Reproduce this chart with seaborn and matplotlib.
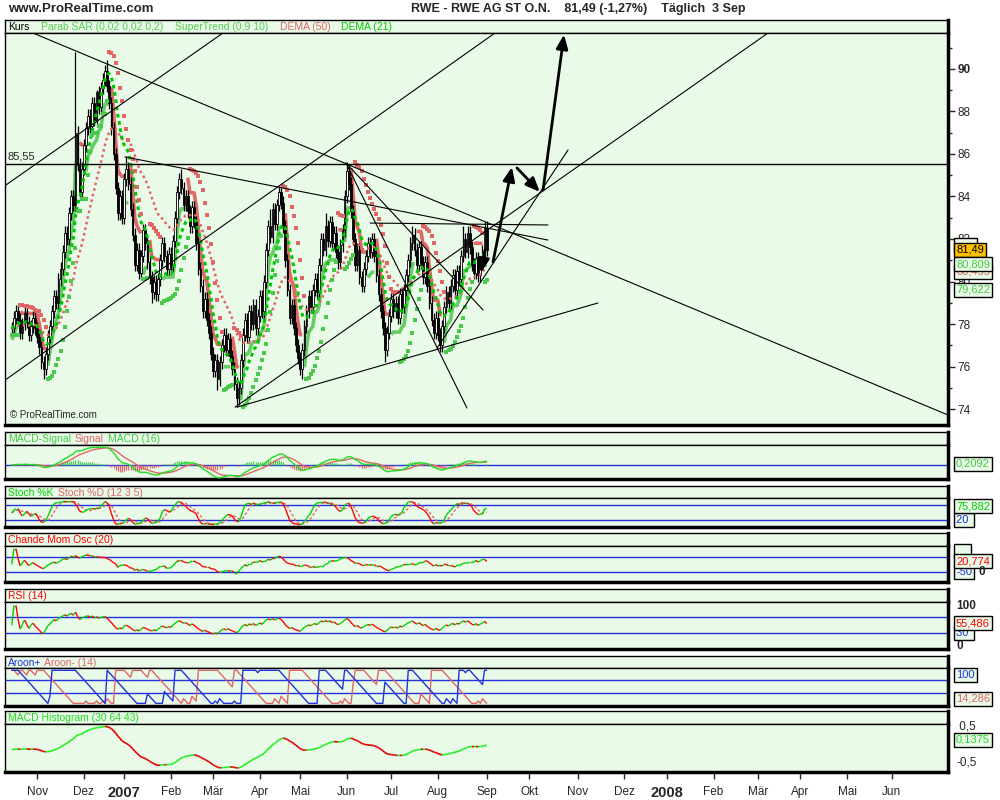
import numpy as np
import pandas as pd
import matplotlib
matplotlib.use("Agg")
import matplotlib.pyplot as plt
import seaborn as sns
from matplotlib.collections import LineCollection

sns.set_style("white")
plt.rcParams["font.family"] = ["Liberation Sans", "DejaVu Sans"]

# ---------------- data ----------------
close = [
    77.8, 78.3, 78.6, 78.2, 77.6, 78.0, 78.5, 78.1, 77.5, 77.9, 78.3, 77.8,
    77.4, 76.9, 76.2, 75.9, 76.6, 77.4, 77.9, 78.6, 79.3, 79.0,
    80.1, 80.6, 81.4, 82.3, 82.0, 83.2, 84.0, 83.6,
    87.0,
    85.5, 84.2, 85.3, 86.4,
    87.2, 87.8, 87.3, 88.4, 87.6, 88.9, 88.2, 89.1,
    89.5, 89.9, 89.2, 88.4,
    87.2, 86.0, 84.4, 83.2, 84.0, 83.0,
    84.8, 85.3, 84.6, 83.4,
    82.2, 80.8, 81.5, 80.4, 81.2,
    82.4, 81.8, 80.9,
    80.2, 79.5, 80.0, 79.4, 80.1,
    81.0, 81.8, 81.2, 80.6, 81.3, 80.8,
    81.9, 83.0, 84.2, 84.8, 84.4, 83.6,
    84.0, 83.3, 82.6, 83.5, 82.8,
    81.8, 80.6, 79.8, 78.6, 79.2, 78.2, 77.6,
    76.6, 75.8, 76.3, 75.4, 76.2, 77.0,
    77.5, 76.8, 77.3, 76.5, 75.9,
    75.2, 74.5, 75.0,
    76.3, 77.5, 78.2, 77.4, 78.6,
    78.0, 78.9, 77.8, 78.4, 79.3, 78.6,
    80.0, 81.5, 82.6, 82.1, 83.4, 82.7, 83.6,
    84.2, 83.7, 82.6,
    81.0, 79.6, 78.3, 78.9, 77.8,
    77.0, 76.4, 75.9, 76.8, 77.9,
    78.6, 79.3, 78.8, 79.6, 80.1, 79.5,
    80.8, 82.0, 81.5, 82.6, 81.9, 82.8,
    81.8, 82.3, 81.4, 80.9, 81.7, 82.4,
    84.0, 85.2, 84.6,
    83.3, 82.0, 80.8, 81.5,
    80.2, 79.8, 80.6, 81.2,
    81.8, 81.4, 82.0, 81.2,
    80.3, 79.4, 78.6, 77.8, 76.8, 77.6,
    78.4, 79.2, 78.6, 79.0, 78.3, 79.4, 78.8, 79.6,
    80.3, 81.0, 81.8, 82.2, 81.5, 80.8,
    81.6, 80.9, 80.2, 80.9, 79.8,
    79.0, 78.2, 77.6, 78.3, 77.5, 77.0, 77.9,
    78.8, 79.5, 79.0, 79.8, 80.3, 79.6, 80.5, 80.1,
    81.2, 82.0, 81.4, 82.3, 81.6,
    80.8, 80.4, 81.1, 80.3, 80.9, 81.4,
    82.54, 81.49,
]
# notable wick extremes (bar index -> price)
high_extremes = {30: 90.8, 40: 89.0, 45: 90.4, 54: 85.9, 80: 85.3, 122: 83.4,
                 127: 84.4, 148: 83.2, 158: 85.6, 189: 82.6, 213: 82.6, 223: 82.8}
low_extremes = {15: 75.4, 66: 79.0, 97: 74.9, 106: 74.1, 137: 75.4, 176: 76.2, 202: 76.7}
wick = 0.3

month_pos = [12, 34, 53, 75, 95, 117, 136, 158, 179, 201, 224, 244, 267, 289, 309,
             331, 352, 372, 394, 415]
month_lab = ["Nov", "Dez", "2007", "Feb", "Mär", "Apr", "Mai", "Jun", "Jul", "Aug", "Sep",
             "Okt", "Nov", "Dez", "2008", "Feb", "Mär", "Apr", "Mai", "Jun"]
price_ticks = list(range(74, 91, 2))
level_line = 85.55

# user-drawn trendlines: (bar1, price1, bar2, price2)
trendlines = [
    (10.9, 91.65, 441.6, 73.72),
    (-3.2, 84.51, 99.6, 91.69),
    (-3.2, 75.36, 227.9, 91.69),
    (53.4, 85.86, 252.9, 81.95),
    (158.1, 85.48, 214.7, 74.05),
    (157.6, 85.58, 222.3, 78.66),
    (106.2, 74.09, 276.5, 78.99),
    (105.3, 74.09, 356.7, 91.69),
    (200.6, 76.87, 262.4, 86.19),
    (169.0, 82.75, 252.9, 82.66),
]
# forecast arrows: (tail bar, tail price, head bar, head price)
arrows = [
    (223.2, 81.48, 221.3, 80.40),
    (227.0, 80.92, 235.9, 85.39),
    (238.3, 85.34, 249.1, 84.21),
    (250.6, 84.31, 260.5, 91.62),
]
# right-hand value boxes of the price panel (first one is hidden behind the orange box)
main_boxes = [
    ("      ", 81.70, "#44CC44", "#EAFAE9"),
    ("81,49", 81.49, "black", "#FFC000"),
    ("80,455", 80.455, "#E06666", "#EAFAE9"),
    ("80,809", 80.809, "#44CC44", "#EAFAE9"),
    ("79,622", 79.622, "#44CC44", "#EAFAE9"),
]

# ---------------- derived series ----------------
n = len(close)
x = np.arange(n)
c = pd.Series(close, dtype=float)
o = c.shift(1).fillna(c.iloc[0])
hi = np.maximum(o, c) + wick
lo = np.minimum(o, c) - wick
for k, v in high_extremes.items():
    hi[k] = v
for k, v in low_extremes.items():
    lo[k] = v
hi = hi.values
lo = lo.values


def psar(h, l, step=0.02, inc=0.02, mx=0.2):
    m = len(h)
    sar = np.zeros(m)
    up = np.ones(m, bool)
    trend = True
    af = step
    ep = h[0]
    sar[0] = l[0]
    for i in range(1, m):
        s = sar[i - 1] + af * (ep - sar[i - 1])
        if trend:
            s = min(s, l[i - 1], l[i - 2] if i > 1 else l[i - 1])
            if l[i] < s:
                trend = False
                s = ep
                ep = l[i]
                af = step
            elif h[i] > ep:
                ep = h[i]
                af = min(af + inc, mx)
        else:
            s = max(s, h[i - 1], h[i - 2] if i > 1 else h[i - 1])
            if h[i] > s:
                trend = True
                s = ep
                ep = h[i]
                af = step
            elif l[i] < ep:
                ep = l[i]
                af = min(af + inc, mx)
        sar[i] = s
        up[i] = trend
    return sar, up


def supertrend(h, l, cl, period=10, mult=0.9):
    cl = np.asarray(cl)
    prev = np.r_[cl[0], cl[:-1]]
    tr = np.maximum(h - l, np.maximum(abs(h - prev), abs(l - prev)))
    atr = pd.Series(tr).ewm(alpha=1 / period, adjust=False).mean().values
    hl2 = (h + l) / 2
    ub = hl2 + mult * atr
    lb = hl2 - mult * atr
    fub, flb = ub.copy(), lb.copy()
    st = np.zeros(len(cl))
    up = np.ones(len(cl), bool)
    st[0] = flb[0]
    for i in range(1, len(cl)):
        fub[i] = ub[i] if (ub[i] < fub[i - 1] or cl[i - 1] > fub[i - 1]) else fub[i - 1]
        flb[i] = lb[i] if (lb[i] > flb[i - 1] or cl[i - 1] < flb[i - 1]) else flb[i - 1]
        if up[i - 1]:
            up[i] = not (cl[i] < flb[i])
        else:
            up[i] = cl[i] > fub[i]
        st[i] = flb[i] if up[i] else fub[i]
    return st, up


def dema(s, span):
    e = s.ewm(span=span, adjust=False).mean()
    return 2 * e - e.ewm(span=span, adjust=False).mean()


sar, sar_up = psar(hi, lo)
st, st_up = supertrend(hi, lo, c.values)
dema50 = dema(c, 50).values
dema21 = dema(c, 21).values

macd = c.ewm(span=12, adjust=False).mean() - c.ewm(span=26, adjust=False).mean()
sig = macd.ewm(span=9, adjust=False).mean()
mhist = macd - sig

his, los = pd.Series(hi), pd.Series(lo)
ll = los.rolling(12, min_periods=1).min()
hh = his.rolling(12, min_periods=1).max()
raw = 100 * (c - ll) / (hh - ll)
stk = raw.rolling(3, min_periods=1).mean()
std = stk.rolling(5, min_periods=1).mean()

d = c.diff().fillna(0)
su = d.clip(lower=0).rolling(20, min_periods=1).sum()
sd = (-d).clip(lower=0).rolling(20, min_periods=1).sum()
cmo = (100 * (su - sd) / (su + sd)).fillna(0)

g = d.clip(lower=0).ewm(alpha=1 / 14, adjust=False).mean()
lz = (-d).clip(lower=0).ewm(alpha=1 / 14, adjust=False).mean()
rsi = (100 - 100 / (1 + g / lz)).fillna(50)

ar_up = np.zeros(n)
ar_dn = np.zeros(n)
for i in range(n):
    s0 = max(0, i - 14)
    ar_up[i] = 100 * (14 - np.argmax(hi[s0:i + 1][::-1])) / 14
    ar_dn[i] = 100 * (14 - np.argmin(lo[s0:i + 1][::-1])) / 14

lm = c.ewm(span=30, adjust=False).mean() - c.ewm(span=64, adjust=False).mean()
lhist = (lm - lm.ewm(span=43, adjust=False).mean()).values

# ---------------- styling ----------------
BG = "#EAFAE9"
GRN = "#00D000"
RED = "#FF0000"
PINK = "#E06666"
LGRN = "#4CC94C"
BLUE = "#2233DD"
XLIM = (-3.2, 441.6)
W, H = 1000, 800
FS_STRIP = 7.5

fig = plt.figure(figsize=(10, 8), dpi=100)
fig.patch.set_facecolor("white")


def add_ax(y0, y1, x0=5, x1=948):
    return fig.add_axes([x0 / W, 1 - y1 / H, (x1 - x0) / W, (y1 - y0) / H])


def style(ax, thick_bottom=True):
    ax.set_facecolor(BG)
    for s in ax.spines.values():
        s.set_color("black")
        s.set_linewidth(1)
    ax.spines["right"].set_linewidth(2.5)
    if thick_bottom:
        ax.spines["bottom"].set_linewidth(2.5)
    ax.set_xticks([])
    ax.set_yticks([])
    ax.set_xlim(*XLIM)


def strip(y0, y1, items):
    sa = add_ax(y0, y1)
    style(sa, thick_bottom=False)
    sa.set_xlim(0, 943)
    sa.set_ylim(0, 1)
    for xp, txt, col in items:
        sa.text(xp - 5, 0.45, txt, color=col, fontsize=FS_STRIP, va="center", ha="left")
    return sa


def slope_line(ax, xs, ys, lw=1.0, up=GRN, dn=RED):
    ys = np.asarray(ys)
    pts = np.column_stack([xs, ys])
    segs = np.stack([pts[:-1], pts[1:]], axis=1)
    cols = np.where(np.diff(ys) >= 0, up, dn)
    ax.add_collection(LineCollection(segs, colors=cols, linewidths=lw, zorder=3))


def vbox(ax, y, txt, col, fc=BG, trans="data", weight="normal", z=6, ec="black"):
    tr = ax.get_yaxis_transform() if trans == "data" else ax.transAxes
    ax.text(1.0085, y, txt, transform=tr, color=col, fontsize=8, va="center", ha="left",
            fontweight=weight, zorder=z, clip_on=False,
            bbox=dict(boxstyle="square,pad=0.18", fc=fc, ec=ec, lw=1))


# header
fig.text(8 / W, 1 - 9 / H, "www.ProRealTime.com", fontsize=9.5, fontweight="bold", va="center")
fig.text(411 / W, 1 - 9 / H, "RWE - RWE AG ST O.N.    81,49 (-1,27%)    Täglich  3 Sep",
         fontsize=9, fontweight="bold", va="center")

# ---------------- main price panel ----------------
strip(20, 33, [(8, "Kurs", "black"), (41, "Parab SAR (0,02 0,02 0,2)", "#55CC55"),
               (175, "SuperTrend (0,9 10)", "#55CC55"), (280, "DEMA (50)", PINK),
               (341, "DEMA (21)", "#00C800")])
ax = add_ax(33, 425)
style(ax)
ax.set_ylim(73.25, 91.69)

st_g = np.where(st_up, st, np.nan)
st_r = np.where(~st_up, st, np.nan)
ax.plot(x, st_g, color="#66CC66", lw=2.6, zorder=2, solid_capstyle="butt")
ax.plot(x, st_r, color="#E06868", lw=2.6, zorder=2, solid_capstyle="butt")

up_c = (c >= o).values
body_b = np.minimum(o, c).values
body_h = np.maximum(np.abs((c - o).values), 0.06)
ax.vlines(x, lo, hi, color="black", lw=0.9, zorder=3)
ax.bar(x, body_h, bottom=body_b, width=0.8, color=np.where(up_c, "white", "black"),
       edgecolor="black", linewidth=0.6, zorder=3)

ax.plot(x, dema50, color=PINK, lw=1.8, ls=(0, (1, 1.3)), zorder=4)
ax.plot(x, dema21, color="#00C800", lw=2.2, ls=(0, (1.2, 1.2)), zorder=4)
sns.scatterplot(x=x[sar_up], y=sar[sar_up], marker="s", s=11, color=LGRN, linewidth=0,
                ax=ax, zorder=4)
sns.scatterplot(x=x[~sar_up], y=sar[~sar_up], marker="s", s=11, color=PINK, linewidth=0,
                ax=ax, zorder=4)

for x1, y1, x2, y2 in trendlines:
    ax.plot([x1, x2], [y1, y2], color="black", lw=0.8, zorder=5)
ax.axhline(level_line, color="black", lw=1, zorder=5)
ax.text(0.003, level_line + 0.1, "85,55", transform=ax.get_yaxis_transform(), fontsize=8,
        va="bottom", ha="left")
for tx, ty, hx, hy in arrows:
    ax.annotate("", xy=(hx, hy), xytext=(tx, ty),
                arrowprops=dict(arrowstyle="-|>,head_length=0.6,head_width=0.25",
                                color="black", lw=2, mutation_scale=14, shrinkA=0,
                                shrinkB=0), zorder=6)
ax.text(0.005, 0.012, "© ProRealTime.com", transform=ax.transAxes, fontsize=7,
        va="bottom", ha="left")

ax.yaxis.tick_right()
ax.set_yticks(price_ticks)
ax.set_yticks(range(74, 92), minor=True)
ax.set_yticklabels([str(t) for t in price_ticks])
ax.tick_params(axis="y", which="major", length=5, width=1, pad=2, labelsize=8.5,
               right=True, left=False)
ax.tick_params(axis="y", which="minor", length=3, width=1, right=True, left=False)
ax.get_yticklabels()[-1].set_fontweight("bold")
ax.set_xlabel("")
ax.set_ylabel("")
for txt, val, col, fc in main_boxes:
    vbox(ax, val, txt, col, fc=fc)

# ---------------- MACD ----------------
strip(432, 445, [(8, "MACD-Signal", "#44CC44"), (75, "Signal", PINK),
                 (108, "MACD (16)", "#44CC44")])
a1 = add_ax(445, 479)
style(a1)
top = float(max(np.abs(macd).max(), np.abs(sig).max())) * 1.12
a1.set_ylim(-top * 14 / 20, top)
a1.axhline(0, color=BLUE, lw=1, zorder=2)
a1.vlines(x, 0, mhist.values, colors=np.where(mhist.values >= 0, "#44CC44", PINK), lw=0.9,
          zorder=2)
sns.lineplot(x=x, y=sig.values, color=PINK, lw=1, ax=a1, zorder=3)
sns.lineplot(x=x, y=macd.values, color="#22DD22", lw=1, ax=a1, zorder=3)
a1.set_xlim(*XLIM)
a1.set_xticks([])
a1.set_yticks([])
a1.set_xlabel("")
a1.set_ylabel("")
vbox(a1, 0.45, "0,2092", "#44CC44", trans="axes")

# ---------------- Stochastic ----------------
strip(486, 498, [(8, "Stoch %K", GRN), (58, "Stoch %D (12 3 5)", PINK)])
a2 = add_ax(498, 527)
style(a2)
a2.set_ylim(-6, 109)
a2.axhline(80, color=BLUE, lw=1)
a2.axhline(20, color=BLUE, lw=1)
a2.plot(x, std.values, color=PINK, lw=1, ls=(0, (2, 1.5)), zorder=3)
slope_line(a2, x, stk.values, lw=1)
vbox(a2, 20, "20 ", BLUE)
vbox(a2, 75.882, "75,882", GRN)

# ---------------- Chande ----------------
strip(533, 546, [(8, "Chande Mom Osc (20)", RED)])
a3 = add_ax(546, 582)
style(a3)
a3.set_ylim(-114, 118)
a3.axhline(50, color=BLUE, lw=1)
a3.axhline(-50, color=BLUE, lw=1)
slope_line(a3, x, cmo.values, lw=1)
vbox(a3, 88, "    ", "black")
vbox(a3, -50, "-50", BLUE)
a3.text(1.032, -52, "0", transform=a3.get_yaxis_transform(), fontsize=8.5,
        fontweight="bold", va="center", clip_on=False, zorder=7)
vbox(a3, 20.774, "20,774", RED)

# ---------------- RSI ----------------
strip(589, 602, [(8, "RSI (14)", RED)])
a4 = add_ax(602, 649)
style(a4)
a4.set_ylim(-10, 109)
a4.axhline(70, color=BLUE, lw=1)
a4.axhline(30, color=BLUE, lw=1)
slope_line(a4, x, rsi.values, lw=1)
a4.text(1.0085, 100, "100", transform=a4.get_yaxis_transform(), fontsize=8.5,
        fontweight="bold", va="center", clip_on=False)
a4.text(1.0085, -3, "0", transform=a4.get_yaxis_transform(), fontsize=8.5,
        fontweight="bold", va="center", clip_on=False)
vbox(a4, 30, "30 ", BLUE)
vbox(a4, 55.486, "55,486", RED)

# ---------------- Aroon ----------------
strip(656, 668, [(8, "Aroon+", BLUE), (44, "Aroon- (14)", PINK)])
a5 = add_ax(668, 706)
style(a5)
a5.set_ylim(-8, 107)
a5.axhline(70, color=BLUE, lw=1)
a5.axhline(30, color=BLUE, lw=1)
sns.lineplot(x=x, y=ar_dn, color=PINK, lw=1, ax=a5, zorder=3)
sns.lineplot(x=x, y=ar_up, color=BLUE, lw=1, ax=a5, zorder=3)
a5.set_xlim(*XLIM)
a5.set_xticks([])
a5.set_yticks([])
a5.set_xlabel("")
a5.set_ylabel("")
vbox(a5, 86, "100", BLUE)
vbox(a5, 14.286, "14,286", PINK)

# ---------------- MACD histogram (line) ----------------
strip(711, 724, [(8, "MACD Histogram (30 64 43)", "#22DD22")])
a6 = add_ax(724, 772)
style(a6)
span = float(lhist.max() - lhist.min())
a6.set_ylim(lhist.min() - 0.1 * span, lhist.max() + 0.06 * span)
slope_line(a6, x, lhist, lw=1.2, up="#22EE22", dn="#DD0000")
a6.text(1.0085, 0.94, " 0,5", transform=a6.transAxes, fontsize=8.5,
        va="center", clip_on=False)
a6.text(1.0085, 0.2, "-0,5", transform=a6.transAxes, fontsize=8.5,
        va="center", clip_on=False)
vbox(a6, 0.675, "0,1375", "#22DD22", trans="axes")
a6.set_xticks(month_pos)
a6.set_xticklabels(month_lab)
a6.tick_params(axis="x", length=5, width=1, direction="out", pad=5, labelsize=8.5,
               bottom=True)
for lab in a6.get_xticklabels():
    if lab.get_text() in ("2007", "2008"):
        lab.set_fontweight("bold")
        lab.set_fontsize(10.5)

fig.savefig("out.png", dpi=100, facecolor="white")
